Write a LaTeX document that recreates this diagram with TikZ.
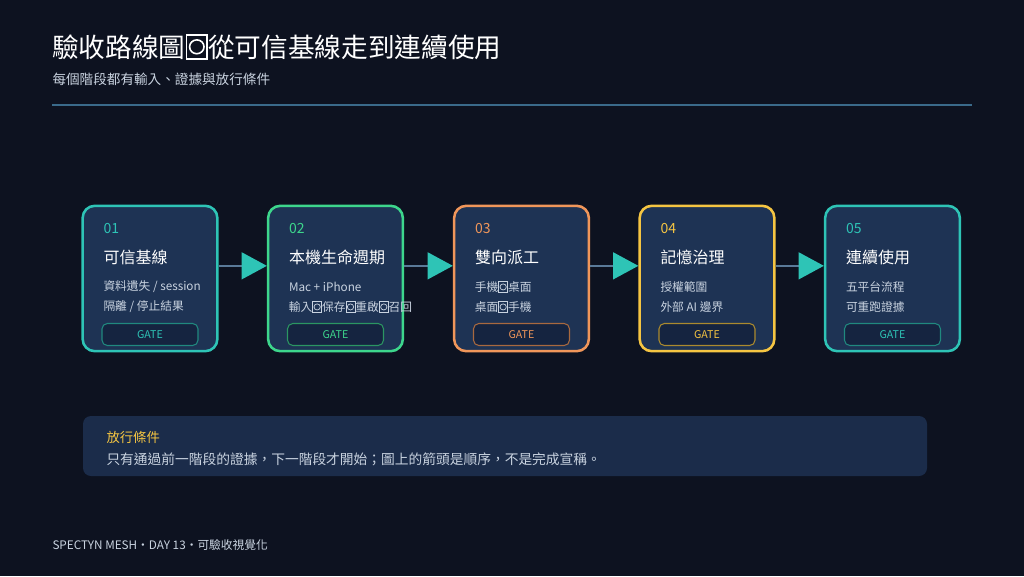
\documentclass[tikz,border=0pt]{standalone}
\usepackage{fontspec}
\setmainfont{Noto Sans CJK TC}
\usetikzlibrary{arrows.meta,positioning}
\definecolor{bg}{HTML}{0D1220}
\definecolor{card}{HTML}{1E3354}
\definecolor{gatebg}{HTML}{152440}
\definecolor{cteal}{HTML}{2EC4B6}
\definecolor{cgreen}{HTML}{3DD68C}
\definecolor{corange}{HTML}{F0965A}
\definecolor{cyellow}{HTML}{F5C542}
\definecolor{linkc}{HTML}{5A7A99}
\definecolor{rulec}{HTML}{3A6A8A}
\definecolor{soft}{HTML}{C9D3E0}
\newcommand{\bx}{\tikz[baseline=-0.08em,x=1em,y=1em,line width=0.06em]{\draw (0.06,-0.12) rectangle (0.84,0.78);\draw (0.45,0.33) ellipse (0.27 and 0.26);}}
\tikzset{every picture/.style={line width=0.75pt}}
\tikzset{
  stage/.style={draw=#1,line width=1.9pt,fill=card,rounded corners=9pt,minimum width=101pt,minimum height=109pt},
  gate/.style={draw=#1!70!black,line width=0.8pt,fill=gatebg,rounded corners=4pt,minimum width=72pt,minimum height=16.5pt,
    text=#1,font=\fontsize{8}{9}\selectfont,inner sep=0pt},
  num/.style={anchor=west,text=#1,font=\fontsize{10.5}{12}\selectfont,inner sep=0pt},
  ttl/.style={anchor=west,text=white,font=\fontsize{12}{13}\selectfont,inner sep=0pt},
  txt/.style={anchor=west,text=soft,font=\fontsize{8.8}{10}\selectfont,inner sep=0pt},
  link/.style={draw=linkc,line width=2pt,-{Triangle[length=19pt,width=20pt,color=cteal]}},
}
\begin{document}
\begin{tikzpicture}[x=0.75pt,y=0.75pt,yscale=-1,xscale=1]
\fill[bg] (0,0) rectangle (1024,576);
\useasboundingbox (0,0) rectangle (1024,576);

% Title
\node (title) [anchor=west,inner sep=0pt,text=white,font=\fontsize{20}{22}\selectfont] at (52,47) {驗收路線圖\bx 從可信基線走到連續使用};
\node (sub) [anchor=west,inner sep=0pt,text=soft,font=\fontsize{10.2}{12}\selectfont] at (52,79) {每個階段都有輸入、證據與放行條件};
\coordinate (r1) at (52,105);
\coordinate (r2) at (972,105);
\draw[rulec,line width=0.8pt] (r1) -- (r2);

% Stages
\foreach \i/\x/\c/\t/\la/\lb in {
  1/150/cteal/可信基線/{資料遺失 / session}/{隔離 / 停止結果},
  2/335.5/cgreen/本機生命週期/Mac + iPhone/{輸入\bx 保存\bx 重啟\bx 召回},
  3/521.5/corange/雙向派工/{手機\bx 桌面}/{桌面\bx 手機},
  4/707/cyellow/記憶治理/授權範圍/外部 AI 邊界,
  5/892.5/cteal/連續使用/五平台流程/可重跑證據}{
  \node (s\i) [stage=\c] at (\x,278.5) {};
  \node (n\i) [num=\c] at (\x-47,228) {0\i};
  \node (t\i) [ttl] at (\x-47,257) {\t};
  \node (a\i) [txt] at (\x-47,287) {\la};
  \node (b\i) [txt] at (\x-47,307) {\lb};
  \node (g\i) [gate=\c] at (\x,334.5) {GATE};
}

% Links
\foreach \i/\j in {1/2,2/3,3/4,4/5}
  \draw[link] ([yshift=-9.5]s\i.east) -- ([yshift=-9.5]s\j.west);

% Note
\node (note) [fill=card!80!bg,rounded corners=6pt,minimum width=633pt,minimum height=45pt] at (505,446) {};
\node (nt) [anchor=west,inner sep=0pt,text=cyellow,font=\fontsize{10}{11}\selectfont] at (106,437) {放行條件};
\node (nb) [anchor=west,inner sep=0pt,text=soft,font=\fontsize{10.3}{11}\selectfont] at (106,459) {只有通過前一階段的證據，下一階段才開始；圖上的箭頭是順序，不是完成宣稱。};

% Footer
\node (foot) [anchor=west,inner sep=0pt,text=soft,font=\fontsize{8.8}{9}\selectfont] at (52,545) {SPECTYN MESH・DAY 13・可驗收視覺化};
\end{tikzpicture}
\end{document}
